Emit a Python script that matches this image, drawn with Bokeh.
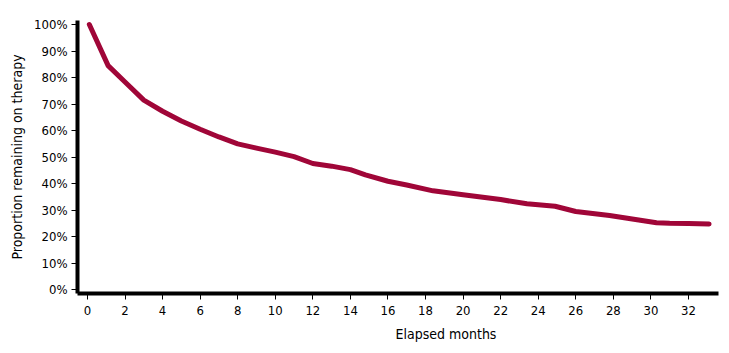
from bokeh.plotting import figure
from bokeh.models import Range1d, FixedTicker, NumeralTickFormatter, Title
from bokeh.embed import file_html
from bokeh.resources import INLINE

months = [0.1, 1.1, 2, 3, 4, 5, 6, 7, 8, 9, 10, 11, 12, 13, 14, 14.8, 16, 17,
          18.4, 20, 22, 23.4, 24.9, 26, 27.8, 30.3, 31, 32, 33.1]
remaining = [1.00, 0.845, 0.783, 0.715, 0.673, 0.636, 0.605, 0.576, 0.550, 0.534,
             0.519, 0.502, 0.476, 0.466, 0.453, 0.433, 0.409, 0.395, 0.373, 0.358,
             0.340, 0.324, 0.315, 0.295, 0.280, 0.253, 0.251, 0.250, 0.248]
x_ticks = list(range(0, 33, 2))
y_ticks = [i / 10 for i in range(11)]

FONT = "'DejaVu Sans Condensed', 'Liberation Sans Narrow', Roboto, sans-serif"

p = figure(width=729, height=353, output_backend="svg", toolbar_location=None,
           x_range=Range1d(-0.53, 33.6), y_range=Range1d(-0.014, 1.015),
           min_border_left=77, min_border_right=11, min_border_top=20, min_border_bottom=60)
p.outline_line_color = None
p.grid.visible = False
p.background_fill_color = "white"

p.line(months, remaining, line_color="#A00638", line_width=5, line_cap="round", line_join="round")

for ax in (p.xaxis[0], p.yaxis[0]):
    ax.axis_line_width = 4
    ax.axis_line_color = "black"
    ax.major_tick_line_color = "black"
    ax.major_tick_line_width = 1
    ax.major_tick_in = 0
    ax.major_tick_out = 6
    ax.minor_tick_line_color = None
    ax.major_label_text_font = FONT
    ax.major_label_text_font_size = "13px"
    ax.major_label_text_color = "black"
    ax.axis_label_text_font = FONT
    ax.axis_label_text_font_size = "14px"
    ax.axis_label_text_font_style = "normal"
    ax.axis_label_text_color = "black"

p.xaxis[0].ticker = FixedTicker(ticks=x_ticks)
p.yaxis[0].ticker = FixedTicker(ticks=y_ticks)
p.yaxis[0].formatter = NumeralTickFormatter(format="0%")
p.yaxis[0].axis_label = "Proportion remaining on therapy"
p.yaxis[0].major_label_standoff = 4
p.yaxis[0].axis_label_standoff = 6
p.xaxis[0].major_label_standoff = 6

p.add_layout(Title(text="Elapsed months", text_font=FONT, text_font_size="14px",
                   text_font_style="normal", text_color="black", align="left",
                   offset=318, standoff=12), "below")

open("out.html", "w").write(file_html(p, INLINE))
